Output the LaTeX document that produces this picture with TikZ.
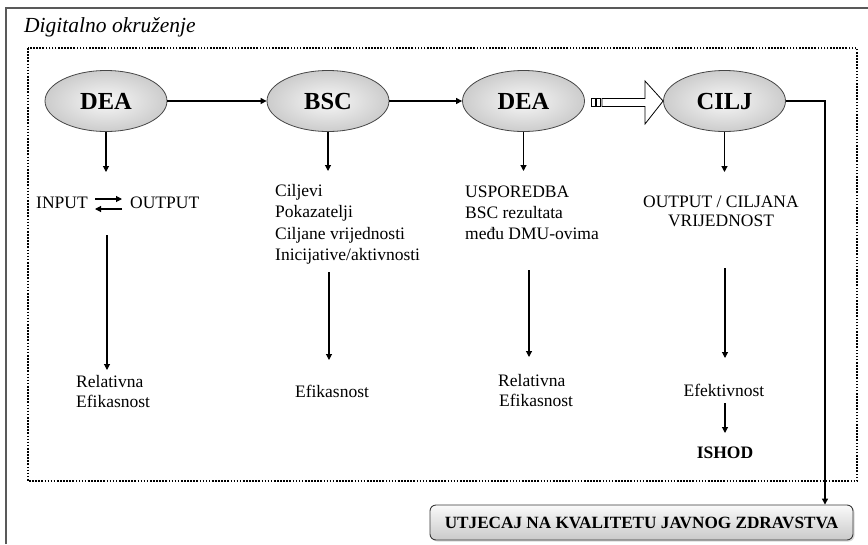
\documentclass[tikz,border=0pt]{standalone}
\usepackage{fontspec}
\setmainfont{Liberation Serif}
\usetikzlibrary{shapes.geometric,arrows.meta,shadows,calc}
\tikzset{
  ell/.style={ellipse, minimum width=122pt, minimum height=61pt, inner sep=0pt,
    draw=gray!55!black, line width=0.8pt, inner color=gray!6, outer color=gray!40,
    text height=16pt, text depth=0pt,
    font=\fontsize{24.5}{27}\selectfont\bfseries},
  arr/.style={-{Triangle[length=6pt,width=6pt]}, line width=1.1pt},
  txt/.style={font=\fontsize{17.5}{21}\selectfont, inner sep=0pt},
  btxt/.style={font=\fontsize{17.5}{21}\selectfont\bfseries, inner sep=0pt},
  dotbox/.style={line width=1.6pt, dash pattern=on 1.6pt off 1.5pt},
  resbox/.style={rectangle, rounded corners=6pt, minimum width=423pt, minimum height=35pt,
    draw=gray!45!black, line width=0.9pt, top color=gray!4, bottom color=gray!42,
    drop shadow={shadow xshift=1.5pt, shadow yshift=-1.5pt, opacity=0.3},
    text height=11.5pt, text depth=0pt,
    font=\fontsize{17.2}{20}\selectfont\bfseries},
}
\begin{document}
\begin{tikzpicture}[x=1pt,y=-1pt]
\useasboundingbox (0,0) rectangle (868,544);
% outer frame
\draw[gray!70!black, line width=1.5pt] (6,544) -- (6,8) -- (868,8);
\node[anchor=base west, inner sep=0pt, font=\fontsize{21.5}{25}\selectfont\itshape] (title) at (24,32) {Digitalno okruženje};
% dotted area
\draw[dotbox] (28,48) rectangle (857,481);
% ellipses
\node[ell] (dea1) at (106,101) {DEA};
\node[ell] (bsc) at (328,101) {BSC};
\node[ell] (dea2) at (523.5,101) {DEA};
\node[ell] (cilj) at (724.5,101) {CILJ};
\draw[arr] (dea1.east) -- (bsc.west);
\draw[arr] (bsc.east) -- (dea2.west);
% block arrow dea2 -> cilj
\draw[line width=0.7pt, fill=white] (591,98.5) rectangle (595,106.5);
\draw[line width=0.7pt, fill=white] (596.5,98.5) rectangle (600.5,106.5);
\draw[line width=0.8pt, fill=white] (602,98.5) -- (645,98.5) -- (645,81) -- (cilj.west) -- (645,124) -- (645,106.5) -- (602,106.5) -- cycle;
% column 1
\coordinate (c1a) at (106,172);
\draw[arr] (dea1.south) -- (c1a);
\node[txt, anchor=base west] (inp) at (36,208) {INPUT};
\node[txt, anchor=base west] (outp) at (130,208) {OUTPUT};
\coordinate (x1) at (95,199); \coordinate (x2) at (122,199);
\coordinate (x3) at (95,209); \coordinate (x4) at (122,209);
\draw[arr] (x1) -- (x2);
\draw[arr] (x4) -- (x3);
\coordinate (c1b) at (107,235); \coordinate (c1c) at (107,370);
\draw[arr] (c1b) -- (c1c);
\node[txt, anchor=base west] (rel1) at (76,387) {Relativna};
\node[txt, anchor=base west] (efk1) at (76,407) {Efikasnost};
% column 2
\coordinate (c2a) at (328,171);
\draw[arr] (bsc.south) -- (c2a);
\node[txt, anchor=base west] (l21) at (275,196) {Ciljevi};
\node[txt, anchor=base west] (l22) at (275,217.5) {Pokazatelji};
\node[txt, anchor=base west] (l23) at (275,239) {Ciljane vrijednosti};
\node[txt, anchor=base west] (l24) at (275,260.5) {Inicijative/aktivnosti};
\coordinate (c2b) at (329,272); \coordinate (c2c) at (329,360);
\draw[arr] (c2b) -- (c2c);
\node[txt, anchor=base] (efk2) at (332,397) {Efikasnost};
% column 3
\coordinate (c3a) at (523.5,171);
\draw[arr] (dea2.south) -- (c3a);
\node[txt, anchor=base west] (l31) at (465,197) {USPOREDBA};
\node[txt, anchor=base west] (l32) at (465,218) {BSC rezultata};
\node[txt, anchor=base west] (l33) at (465,239) {među DMU-ovima};
\coordinate (c3b) at (529,270); \coordinate (c3c) at (529,357);
\draw[arr] (c3b) -- (c3c);
\node[txt, anchor=base west] (rel3) at (498,386) {Relativna};
\node[txt, anchor=base west] (efk3) at (499,406) {Efikasnost};
% column 4
\coordinate (c4a) at (724.5,172);
\draw[arr] (cilj.south) -- (c4a);
\node[txt, anchor=base] (l41) at (721,207) {OUTPUT / CILJANA};
\node[txt, anchor=base] (l42) at (721,226.5) {VRIJEDNOST};
\coordinate (c4b) at (725,268); \coordinate (c4c) at (725,358);
\draw[arr] (c4b) -- (c4c);
\node[txt, anchor=base] (eft) at (724,396) {Efektivnost};
\coordinate (c4d) at (725,403); \coordinate (c4e) at (725,433);
\draw[arr] (c4d) -- (c4e);
\node[btxt, anchor=base] (ishod) at (725,458) {ISHOD};
% result box
\node[resbox] (box) at (641.5,522.5) {UTJECAJ NA KVALITETU JAVNOG ZDRAVSTVA};
\coordinate (turn) at (825,101);
\draw[arr] (cilj.east) -- (turn) -- (turn |- box.north);
\end{tikzpicture}
\end{document}
